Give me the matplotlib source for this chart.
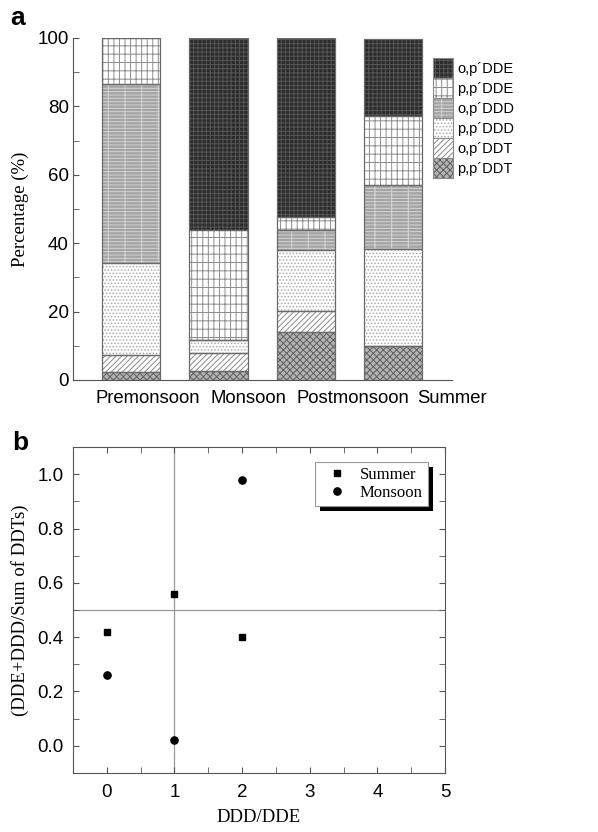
import matplotlib
matplotlib.use("Agg")
import matplotlib.pyplot as plt
import numpy as np
from matplotlib.patches import Patch, Rectangle
from matplotlib.legend_handler import HandlerTuple
from matplotlib.transforms import IdentityTransform

# ---------------- data ----------------
seasons = ["Premonsoon", "Monsoon", "Postmonsoon", "Summer"]
compounds = ["p,p´DDT", "o,p´DDT", "p,p´DDD", "o,p´DDD", "p,p´DDE", "o,p´DDE"]
pp_ddt = [2.4, 2.6, 13.9, 10.0]
op_ddt = [4.9, 5.4, 6.3, 0.0]
pp_ddd = [27.0, 3.7, 17.7, 28.3]
op_ddd = [52.2, 0.0, 6.0, 18.8]
pp_dde = [13.5, 32.2, 3.7, 20.0]
op_dde = [0.0, 56.1, 52.4, 22.6]
series = [pp_ddt, op_ddt, pp_ddd, op_ddd, pp_dde, op_dde]

summer_x = [0, 1, 2]
summer_y = [0.42, 0.56, 0.40]
monsoon_x = [0, 1, 2]
monsoon_y = [0.26, 0.02, 0.98]

# ---------------- styles ----------------
# (facecolor, hatch, hatchcolor)
styles = [
    ("#b4b4b4", "xxxxx", "#5e5e5e"),  # p,p'DDT
    ("#ffffff", "//////", "#8a8a8a"), # o,p'DDT
    ("#ffffff", ".....", "#a8a8a8"),  # p,p'DDD
    ("#a4a4a4", "-----|", "#d4d4d4"), # o,p'DDD
    ("#ffffff", "|||--", "#8c8c8c"),  # p,p'DDE
    ("#2c2c2c", "++++", "#555555"),   # o,p'DDE
]

plt.rcParams["hatch.linewidth"] = 0.7
SANS = ["Liberation Sans", "DejaVu Sans"]
SERIF = ["Liberation Serif", "DejaVu Serif"]
plt.rcParams["font.family"] = SANS

W, H = 598, 832
fig = plt.figure(figsize=(W / 100, H / 100), dpi=100)

# ---------------- panel a ----------------
ax1 = fig.add_axes([73 / W, 1 - 380 / H, (452 - 73) / W, (380 - 38) / H])
x = np.arange(len(seasons))
width = 0.667
bottom = np.zeros(len(seasons))
handles = {}
for name, vals, (fc, hatch, hc) in zip(compounds, series, styles):
    vals = np.array(vals)
    ax1.bar(x, vals, width, bottom=bottom, color=fc, hatch=hatch,
            edgecolor=hc, linewidth=0, zorder=2)
    ax1.bar(x, vals, width, bottom=bottom, fill=False,
            edgecolor="#6a6a6a", linewidth=0.9, zorder=3)
    bottom += vals
    handles[name] = (Patch(facecolor=fc, hatch=hatch, edgecolor=hc, linewidth=0),
                     Patch(fill=False, edgecolor="#8a8a8a", linewidth=0.8))

ax1.set_xlim(-0.67, 3.68)
ax1.set_ylim(0, 100)
ax1.spines["top"].set_visible(False)
ax1.spines["right"].set_visible(False)
ax1.spines["left"].set_color("#555555")
ax1.spines["bottom"].set_color("#555555")
ax1.set_yticks([0, 20, 40, 60, 80, 100])
ax1.set_yticks(np.arange(10, 100, 20), minor=True)
ax1.tick_params(axis="y", which="both", direction="in", length=4,
                labelsize=13.5, pad=3, color="#555555")
ax1.set_xticks(x)
ax1.set_xticklabels([])
ax1.tick_params(axis="x", length=0)
# category labels (the reference sets them as a text row shifted right)
label_shift_px = [16, 30, 47, 59]
for i, (name, dx) in enumerate(zip(seasons, label_shift_px)):
    ax1.annotate(name, xy=(i, 0), xycoords=("data", "axes fraction"),
                 xytext=(dx * 0.72, -23 * 0.72), textcoords="offset points",
                 ha="center", va="baseline", fontsize=13.3)
ax1.set_ylabel("Percentage (%)", family=SERIF, fontsize=13.5, labelpad=6)

order = compounds[::-1]
leg1 = ax1.legend([handles[n] for n in order], order,
                  handler_map={tuple: HandlerTuple(ndivide=1, pad=0)},
                  loc="upper left", bbox_to_anchor=(433 / W, 1 - 58 / H),
                  bbox_transform=fig.transFigure, borderaxespad=0, borderpad=0,
                  frameon=False, fontsize=10.5, handlelength=1.37,
                  handleheight=1.733, labelspacing=0, handletextpad=0.3)
fig.text(10 / W, 1 - 18 / H, "a", fontsize=19, fontweight="bold", va="center")

# ---------------- panel b ----------------
ax2 = fig.add_axes([73 / W, 1 - 773 / H, (445 - 73) / W, (773 - 447) / H])
ax2.axvline(1, color="#9a9a9a", linewidth=0.9, zorder=1)
ax2.axhline(0.5, color="#9a9a9a", linewidth=0.9, zorder=1)
ax2.plot(summer_x, summer_y, linestyle="none", marker="s", markersize=4.6,
         color="black", label="Summer", zorder=3)
ax2.plot(monsoon_x, monsoon_y, linestyle="none", marker="o", markersize=5.2,
         color="black", label="Monsoon", zorder=3)
ax2.set_xlim(-0.5, 5)
ax2.set_ylim(-0.1, 1.1)
ax2.set_xticks([0, 1, 2, 3, 4, 5])
ax2.set_xticks(np.arange(-0.5, 5, 0.5), minor=True)
ax2.set_yticks([0.0, 0.2, 0.4, 0.6, 0.8, 1.0])
ax2.set_yticks(np.arange(-0.1, 1.1, 0.1), minor=True)
ax2.set_yticklabels(["0.0", "0.2", "0.4", "0.6", "0.8", "1.0"])
for s in ax2.spines.values():
    s.set_color("#555555")
ax2.tick_params(which="both", direction="in", length=4, top=True, right=True,
                color="#555555", labelsize=13.5)
ax2.tick_params(axis="y", pad=7)
ax2.tick_params(axis="x", pad=8)
ax2.set_xlabel("DDD/DDE", family=SERIF, fontsize=13.5, labelpad=6)
ax2.set_ylabel("(DDE+DDD/Sum of DDTs)", family=SERIF, fontsize=13.5, labelpad=6)

leg2 = ax2.legend(loc="upper left", bbox_to_anchor=(315 / W, 1 - 462 / H),
                  bbox_transform=fig.transFigure, borderaxespad=0,
                  prop={"family": SERIF, "size": 12}, fancybox=False,
                  framealpha=1, edgecolor="#999999", handlelength=2.0,
                  handletextpad=0.4, borderpad=0.3, labelspacing=0.1)
leg2.get_frame().set_linewidth(0.8)
leg2.set_zorder(6)
fig.canvas.draw()
bb = leg2.get_window_extent()
off = 5
shadow = Rectangle((bb.x0 + off, bb.y0 - off), bb.width, bb.height,
                   facecolor="black", edgecolor="none",
                   transform=IdentityTransform(), zorder=5, clip_on=False)
ax2.add_artist(shadow)

fig.text(12 / W, 1 - 443 / H, "b", fontsize=19, fontweight="bold", va="center")

fig.savefig("out.png", dpi=100)
